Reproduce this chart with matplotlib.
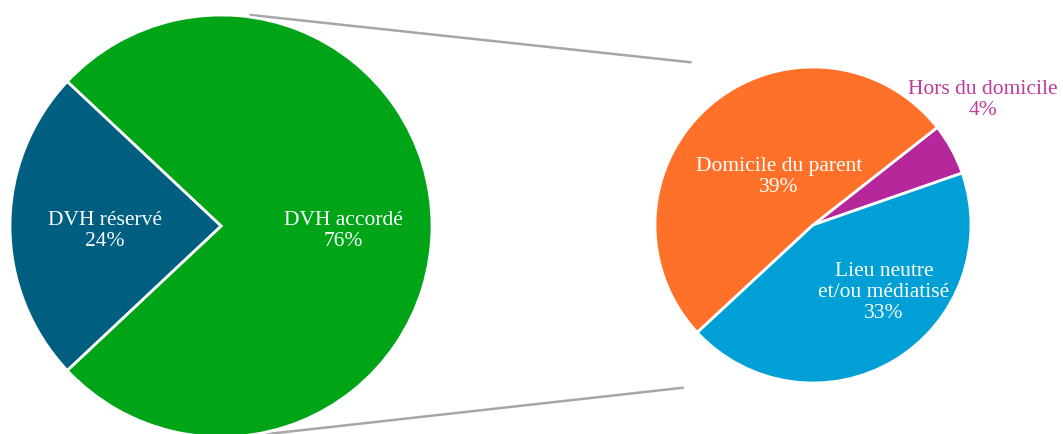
import numpy as np
import matplotlib
matplotlib.use("Agg")
import matplotlib.pyplot as plt

# main pie
main_labels = ["DVH accordé", "DVH réservé"]
main_values = [76, 24]
main_colors = ["#00A517", "#005F80"]

# breakdown of "DVH accordé"
sub_labels = ["Hors du domicile", "Domicile du parent", "Lieu neutre\net/ou médiatisé"]
sub_values = [4, 39, 33]
sub_colors = ["#B5279B", "#FF7129", "#00A0D6"]

plt.rcParams["font.family"] = ["Liberation Serif", "DejaVu Serif"]

fig = plt.figure(figsize=(10.63, 4.35), dpi=100)
ax = fig.add_axes([0, 0, 1, 1])

big_c, big_r = (221, 208), 211
small_c, small_r = (813, 209), 158

# startangle chosen so that the "réservé" slice is centered on the left
big_start = 180 + main_values[1] / 100 * 360 / 2
ax.pie(main_values, colors=main_colors, center=big_c, radius=big_r,
       startangle=big_start, counterclock=True,
       wedgeprops=dict(edgecolor="white", linewidth=2), frame=True)

ax.pie(sub_values, colors=sub_colors, center=small_c, radius=small_r,
       startangle=19.2, counterclock=True,
       wedgeprops=dict(edgecolor="white", linewidth=2), frame=True)
ax.set_xlim(0, 1063)
ax.set_ylim(0, 435)
ax.set_aspect("equal")
ax.axis("off")

# labels (offsets in radius units)
big_pos = [(0.58, -0.02), (-0.55, -0.02)]
for lab, val, (dx, dy) in zip(main_labels, main_values, big_pos):
    ax.text(big_c[0] + dx * big_r, big_c[1] + dy * big_r, f"{lab}\n{val}%",
            ha="center", va="center", color="white", fontsize=15.5, linespacing=1.12)

sub_pos = [(1.076, 0.80), (-0.215, 0.31), (0.45, -0.42)]
sub_text_colors = ["#C0399F", "white", "white"]
for lab, val, (dx, dy), tc in zip(sub_labels, sub_values, sub_pos, sub_text_colors):
    ax.text(small_c[0] + dx * small_r, small_c[1] + dy * small_r, f"{lab}\n{val}%",
            ha="center", va="center", color=tc, fontsize=15.5, linespacing=1.15)

# connector lines
def pt(c, r, ang):
    a = np.deg2rad(ang)
    return c[0] + r * np.cos(a), c[1] + r * np.sin(a)

for a1, a2, f2 in [(82, 127, 1.29), (-77.5, 231.3, 1.32)]:
    x1, y1 = pt(big_c, big_r * 1.01, a1)
    x2, y2 = pt(small_c, small_r * f2, a2)
    ax.plot([x1, x2], [y1, y2], color="#A6A6A6", linewidth=1.8, zorder=0)

fig.savefig("out.png", dpi=100)
